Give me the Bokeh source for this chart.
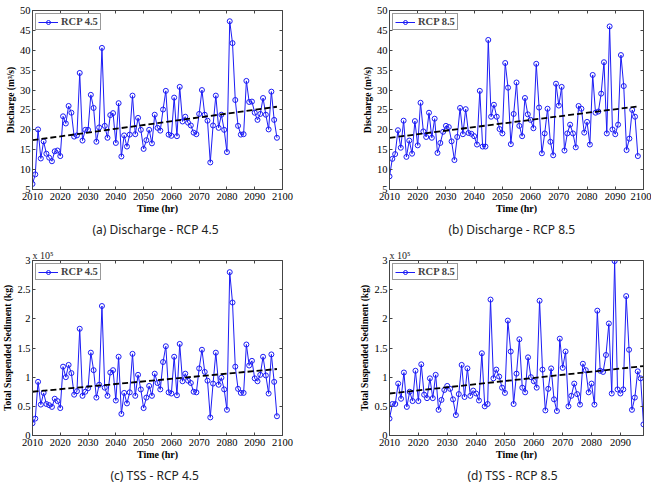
from bokeh.plotting import figure
from bokeh.layouts import gridplot
from bokeh.models import (Range1d, LinearAxis, FixedTicker, Legend, LegendItem,
                          NumeralTickFormatter, Title)
from bokeh.embed import file_html
from bokeh.resources import INLINE

# ---------------- data ----------------
years = list(range(2010, 2099))
trend_years = [2010, 2098]

discharge_rcp45 = [
    6.4, 8.8, 20.1, 12.8, 17.1, 14.0, 13.0, 12.1, 14.6, 14.8,
    13.4, 23.4, 21.6, 26.0, 24.3, 18.3, 18.6, 34.3, 17.3, 20.0,
    20.0, 28.8, 25.5, 17.0, 20.6, 40.6, 21.0, 18.0, 23.7, 24.2,
    16.7, 26.7, 13.3, 18.6, 15.8, 18.8, 28.6, 18.9, 23.0, 20.0,
    15.2, 17.4, 20.0, 16.6, 23.8, 20.5, 19.8, 25.1, 29.8, 18.8,
    18.5, 28.1, 18.4, 30.8, 22.1, 23.3, 21.8, 21.1, 19.3, 18.9,
    24.0, 30.0, 23.8, 22.3, 11.8, 21.1, 28.6, 20.5, 23.8, 20.0,
    14.4, 47.3, 41.8, 27.5, 21.0, 18.8, 18.9, 32.3, 27.0, 27.1,
    24.3, 22.5, 24.0, 28.0, 23.8, 20.1, 29.6, 22.5, 18.0]

discharge_rcp85 = [
    8.3, 12.7, 13.9, 19.9, 15.5, 22.3, 13.2, 17.3, 14.0, 22.2,
    16.1, 26.8, 19.6, 18.2, 24.3, 18.0, 22.8, 14.2, 16.7, 19.5,
    21.0, 20.7, 17.1, 12.4, 18.2, 25.5, 18.9, 25.2, 19.2, 19.0,
    18.4, 16.3, 29.8, 15.8, 15.8, 42.6, 23.3, 26.3, 23.3, 20.2,
    19.1, 36.8, 30.6, 16.4, 24.0, 31.9, 21.0, 18.4, 28.0, 23.9,
    22.5, 20.4, 36.6, 25.6, 14.1, 19.1, 25.3, 17.0, 13.6, 31.6,
    26.1, 30.8, 14.8, 19.1, 21.3, 19.1, 15.6, 26.0, 25.3, 19.3,
    22.0, 16.3, 33.8, 24.3, 24.6, 29.1, 37.0, 19.1, 46.0, 20.1,
    18.9, 21.3, 38.8, 31.0, 14.9, 17.8, 25.0, 23.3, 13.4]

# total suspended sediment, in units of 1e5 kg
tss_rcp45 = [
    0.21, 0.29, 0.92, 0.53, 0.73, 0.54, 0.52, 0.49, 0.63, 0.59,
    0.47, 1.18, 1.00, 1.21, 1.07, 0.70, 0.76, 1.83, 0.68, 0.75,
    0.81, 1.42, 1.12, 0.65, 0.87, 2.22, 0.82, 0.68, 1.08, 1.12,
    0.60, 1.35, 0.37, 0.73, 0.55, 0.74, 1.40, 0.68, 1.04, 0.79,
    0.47, 0.65, 0.85, 0.68, 1.06, 0.90, 0.79, 1.26, 1.53, 0.74,
    0.72, 1.35, 0.69, 1.57, 0.93, 1.06, 0.94, 0.90, 0.75, 0.74,
    1.15, 1.47, 1.09, 0.94, 0.31, 0.89, 1.42, 0.87, 0.99, 0.79,
    0.44, 2.80, 2.28, 1.18, 0.80, 0.73, 0.73, 1.56, 1.20, 1.28,
    0.98, 0.93, 1.04, 1.35, 1.03, 0.72, 1.39, 0.92, 0.33]

tss_rcp85 = [
    0.29, 0.54, 0.54, 0.89, 0.63, 1.08, 0.49, 0.75, 0.59, 1.11,
    0.59, 1.22, 0.70, 0.64, 0.98, 0.64, 1.04, 0.44, 0.61, 0.78,
    0.85, 0.80, 0.62, 0.35, 0.71, 1.21, 0.66, 1.15, 0.68, 0.77,
    0.72, 0.60, 1.41, 0.50, 0.54, 2.33, 0.98, 1.13, 1.01, 0.82,
    0.73, 1.97, 1.44, 0.54, 1.06, 1.65, 0.82, 0.74, 1.34, 1.00,
    0.93, 0.82, 2.31, 1.13, 0.43, 0.80, 1.15, 0.62, 0.42, 1.66,
    1.16, 1.44, 0.50, 0.68, 0.89, 0.71, 0.53, 1.23, 1.12, 0.74,
    0.89, 0.53, 2.14, 1.11, 1.09, 1.38, 1.92, 0.72, 2.99, 0.79,
    0.72, 0.79, 2.39, 1.47, 0.44, 0.65, 1.10, 0.98, 0.19]

trend_q45 = [17.4, 25.8]
trend_q85 = [18.0, 25.9]
trend_t45 = [0.75, 1.14]
trend_t85 = [0.72, 1.19]

q_ticks = [5, 10, 15, 20, 25, 30, 35, 40, 45, 50]
t_ticks = [0, 0.5, 1, 1.5, 2, 2.5, 3]
x_ticks = [2010, 2020, 2030, 2040, 2050, 2060, 2070, 2080, 2090, 2100]
x_ticks_d = [2010, 2020, 2030, 2040, 2050, 2060, 2070, 2080, 2090]

SERIF = "Liberation Serif"
BLUE = "#1c1cf5"
EDGE = "#444444"


def panel(vals, trend, leg, ylabel, caption, cap_offset, yr, yticks, xend, xticks,
          w, h, ml, mr, mt, mb, tss=False):
    p = figure(width=w, height=h, x_range=Range1d(2010, xend), y_range=Range1d(*yr),
               output_backend="svg", toolbar_location=None,
               min_border_left=ml, min_border_right=mr,
               min_border_top=mt, min_border_bottom=mb)
    p.xgrid.visible = False
    p.ygrid.visible = False
    p.outline_line_color = EDGE
    p.outline_line_width = 1
    p.background_fill_color = "white"
    p.border_fill_color = "white"

    xt = FixedTicker(ticks=xticks)
    yt = FixedTicker(ticks=yticks)
    xa = p.below[0]
    ya = p.left[0]
    xa.ticker = xt
    ya.ticker = yt
    if tss:
        ya.formatter = NumeralTickFormatter(format="0.[0]")
    for ax in (xa, ya):
        ax.major_tick_in = 3
        ax.major_tick_out = 0
        ax.minor_tick_in = 0
        ax.minor_tick_out = 0
        ax.axis_line_color = EDGE
        ax.major_tick_line_color = EDGE
        ax.major_label_text_font = SERIF
        ax.major_label_text_font_size = "10.5px"
        ax.major_label_text_color = "black"
        ax.axis_label_text_font = SERIF
        ax.axis_label_text_font_style = "bold"
        ax.axis_label_text_color = "black"
    xa.major_label_standoff = 3
    xa.axis_label = "Time (hr)"
    xa.axis_label_text_font_size = "10px"
    xa.axis_label_standoff = 0
    ya.major_label_standoff = 2
    ya.axis_label = ylabel
    ya.axis_label_text_font_size = "9.5px"
    ya.axis_label_standoff = 1

    # inward ticks on the top and right edges (box on)
    for side, tk in (("right", yt), ("above", xt)):
        ax = LinearAxis(ticker=tk, major_label_text_font_size="1px",
                        major_label_text_color=None,
                        major_label_standoff=0, major_tick_in=3, major_tick_out=0,
                        minor_tick_in=0, minor_tick_out=0, axis_line_color=None,
                        major_tick_line_color=EDGE)
        p.add_layout(ax, side)

    r1 = p.line(years, vals, line_color=BLUE, line_width=1)
    r2 = p.scatter(years, vals, marker="circle", size=5, line_color=BLUE,
                   fill_color=None, line_width=1)
    p.line(trend_years, trend, line_color="black", line_dash="6 3", line_width=1.8)

    legend = Legend(items=[LegendItem(label=leg, renderers=[r1, r2])],
                    location="top_left", label_text_font=SERIF,
                    label_text_font_style="bold", label_text_font_size="10.5px",
                    border_line_color="#333333", border_line_width=1,
                    padding=2, margin=3, spacing=0, glyph_width=20, glyph_height=10,
                    label_standoff=3, label_height=10, background_fill_alpha=1.0)
    p.add_layout(legend)

    if tss:
        p.title.text = "x 10⁵"
        p.title.text_font = SERIF
        p.title.text_font_size = "10px"
        p.title.text_font_style = "normal"
        p.title.text_color = "#222222"
        p.title.align = "left"
        p.title.offset = 0
        p.title.standoff = 0

    cap = Title(text=caption, text_font="Noto Sans", text_font_size="12px",
                text_font_style="normal", text_color="#222222", align="left",
                offset=cap_offset, standoff=4)
    p.add_layout(cap, "below")
    return p


pa = panel(discharge_rcp45, trend_q45, "RCP 4.5", "Discharge (m³/s)",
           "(a) Discharge - RCP 4.5", 60, (5, 50), q_ticks, 2100, x_ticks,
           325, 245, 27, 43, 10, 56)
pb = panel(discharge_rcp85, trend_q85, "RCP 8.5", "Discharge (m³/s)",
           "(b) Discharge - RCP 8.5", 59, (5, 50), q_ticks, 2100, x_ticks,
           326, 245, 64, 8, 10, 56)
pc = panel(tss_rcp45, trend_t45, "RCP 4.5", "Total Suspended Sediment (kg)",
           "(c) TSS - RCP 4.5", 78, (0, 3), t_ticks, 2100, x_ticks,
           325, 240, 27, 43, 15, 46, tss=True)
pd_ = panel(tss_rcp85, trend_t85, "RCP 8.5", "Total Suspended Sediment (kg)",
            "(d) TSS - RCP 8.5", 78, (0, 3), t_ticks, 2098, x_ticks_d,
            326, 240, 64, 8, 15, 46, tss=True)

grid = gridplot([[pa, pb], [pc, pd_]], toolbar_location=None)

open("out.html", "w").write(file_html(grid, INLINE))
